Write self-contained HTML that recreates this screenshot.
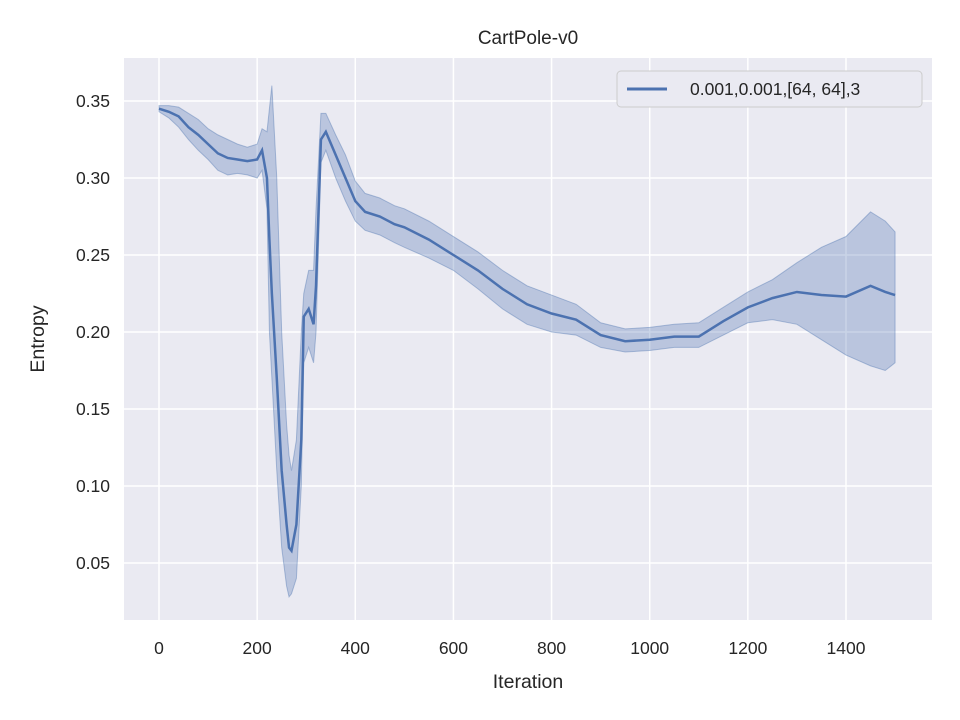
<!DOCTYPE html>
<html><head><meta charset="utf-8"><style>
body{margin:0;background:#fff;}
svg{display:block;font-family:"Liberation Sans",Arial,sans-serif;}
</style></head><body>
<svg id="chart" width="960" height="720">
<rect x="124" y="58" width="808" height="562" fill="#eaeaf2"/>
<g id="grid"></g>
<g id="series"></g>
<g id="ticks" font-size="17.5" fill="#262626"></g>
<text x="528" y="44" text-anchor="middle" font-size="19" fill="#262626">CartPole-v0</text>
<text x="528" y="688" text-anchor="middle" font-size="19.5" fill="#262626">Iteration</text>
<text transform="translate(44,339) rotate(-90)" text-anchor="middle" font-size="19.5" fill="#262626">Entropy</text>
<g>
<rect x="617" y="71" width="305" height="36" rx="4" fill="#eaeaf2" stroke="#cccccc"/>
<line x1="627" y1="89" x2="667" y2="89" stroke="#4c72b0" stroke-width="3"/>
<text x="690" y="95" font-size="17.5" fill="#262626">0.001,0.001,[64, 64],3</text>
</g>
</svg>
<script>
const xs=[0,20,40,60,80,100,120,140,160,180,200,210,220,225,230,240,250,260,265,270,280,290,295,305,315,320,330,340,360,380,400,420,450,480,500,550,600,650,700,750,800,850,900,950,1000,1050,1100,1150,1200,1250,1300,1350,1400,1450,1480,1500];
const mean=[0.345,0.343,0.340,0.333,0.328,0.322,0.316,0.313,0.312,0.311,0.312,0.318,0.300,0.260,0.225,0.170,0.110,0.075,0.060,0.058,0.075,0.130,0.210,0.215,0.205,0.230,0.325,0.330,0.315,0.300,0.285,0.278,0.275,0.270,0.268,0.260,0.250,0.240,0.228,0.218,0.212,0.208,0.198,0.194,0.195,0.197,0.197,0.207,0.216,0.222,0.226,0.224,0.223,0.230,0.226,0.224];
const lower=[0.343,0.339,0.333,0.325,0.318,0.312,0.305,0.302,0.303,0.302,0.300,0.305,0.280,0.200,0.170,0.110,0.060,0.035,0.028,0.030,0.040,0.100,0.180,0.190,0.180,0.200,0.310,0.318,0.300,0.285,0.272,0.266,0.263,0.258,0.255,0.248,0.240,0.228,0.215,0.205,0.200,0.198,0.190,0.187,0.188,0.190,0.190,0.198,0.206,0.208,0.205,0.195,0.185,0.178,0.175,0.180];
const upper=[0.347,0.347,0.346,0.342,0.338,0.332,0.328,0.325,0.322,0.320,0.322,0.332,0.330,0.345,0.360,0.300,0.200,0.140,0.120,0.110,0.130,0.200,0.225,0.240,0.240,0.280,0.342,0.342,0.328,0.315,0.298,0.290,0.287,0.282,0.280,0.272,0.262,0.252,0.240,0.230,0.224,0.218,0.206,0.202,0.203,0.205,0.206,0.216,0.226,0.234,0.245,0.255,0.262,0.278,0.272,0.265];
const xTicks=[0,200,400,600,800,1000,1200,1400];
const yTicks=[0.05,0.10,0.15,0.20,0.25,0.30,0.35];
const X=v=>159+v*(687/1400);
const Y=v=>101+(0.35-v)*1540;
const NS="http://www.w3.org/2000/svg";
function mk(tag,attrs,parent){const e=document.createElementNS(NS,tag);for(const k in attrs)e.setAttribute(k,attrs[k]);parent.appendChild(e);return e;}
const grid=document.getElementById('grid'),ticks=document.getElementById('ticks'),ser=document.getElementById('series');
xTicks.forEach(t=>{
 const l=mk('line',{x1:X(t),x2:X(t),y1:58,y2:620,stroke:'#fff','stroke-width':1.5},grid);
 
 
 const tx=mk('text',{x:X(t),y:654,'text-anchor':'middle'},ticks);tx.textContent=t;
 
 
});
yTicks.forEach(t=>{
 const l=mk('line',{x1:124,x2:932,y1:Y(t),y2:Y(t),stroke:'#fff','stroke-width':1.5},grid);
 
 
 const tx=mk('text',{x:110,y:Y(t)+6,'text-anchor':'end'},ticks);tx.textContent=t.toFixed(2);
 
 
});
let band=xs.map((x,i)=>X(x)+','+Y(upper[i])).join(' ')+' '+xs.map((x,i)=>X(x)+','+Y(lower[i])).reverse().join(' ');
const b=mk('polygon',{points:band,fill:'#4c72b0','fill-opacity':0.3,stroke:'#4c72b0','stroke-opacity':0.4},ser);


const ln=mk('polyline',{points:xs.map((x,i)=>X(x)+','+Y(mean[i])).join(' '),fill:'none',stroke:'#4c72b0','stroke-width':2.5},ser);


</script>
</body></html>
